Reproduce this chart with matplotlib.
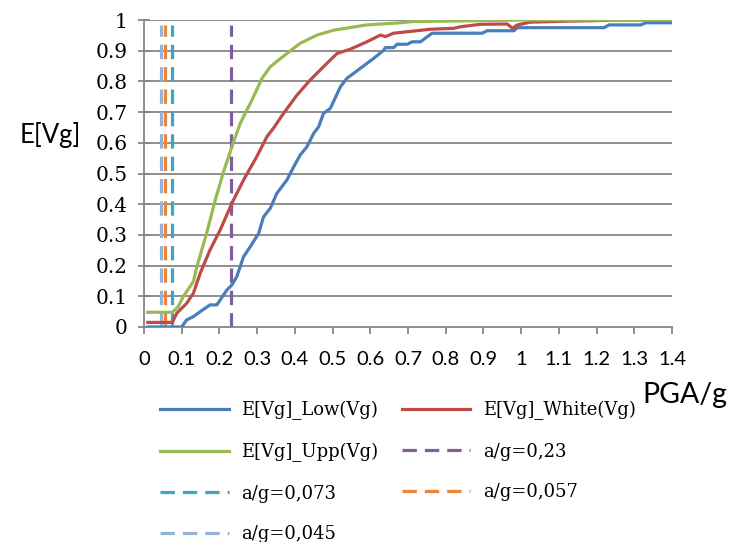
import matplotlib
matplotlib.use("Agg")
import matplotlib.pyplot as plt

# E[Vg] curves
low_x = [0.01, 0.10, 0.113, 0.131, 0.149, 0.175, 0.193, 0.220, 0.233, 0.246, 0.264, 0.282,
         0.304, 0.317, 0.335, 0.352, 0.379, 0.397, 0.414, 0.432, 0.450, 0.463, 0.476, 0.494,
         0.521, 0.538, 0.574, 0.609, 0.636, 0.640, 0.662, 0.671, 0.698, 0.711, 0.733, 0.764,
         0.897, 0.910, 0.981, 0.990, 1.220, 1.233, 1.317, 1.331, 1.40]
low_y = [0.0, 0.0, 0.023, 0.034, 0.050, 0.072, 0.072, 0.121, 0.137, 0.164, 0.229, 0.262,
         0.305, 0.359, 0.387, 0.435, 0.479, 0.522, 0.560, 0.587, 0.631, 0.652, 0.696, 0.712,
         0.783, 0.810, 0.843, 0.875, 0.902, 0.910, 0.910, 0.921, 0.921, 0.929, 0.929, 0.957,
         0.957, 0.965, 0.965, 0.975, 0.975, 0.984, 0.984, 0.991, 0.991]

white_x = [0.01, 0.075, 0.087, 0.113, 0.131, 0.149, 0.175, 0.202, 0.233, 0.264, 0.299, 0.326,
           0.343, 0.370, 0.406, 0.441, 0.476, 0.512, 0.547, 0.591, 0.627, 0.640, 0.662, 0.715,
           0.760, 0.822, 0.839, 0.892, 0.963, 0.977, 0.990, 1.025, 1.114, 1.202, 1.25, 1.40]
white_y = [0.015, 0.015, 0.045, 0.077, 0.110, 0.175, 0.251, 0.316, 0.403, 0.479, 0.555, 0.620,
           0.647, 0.696, 0.756, 0.805, 0.848, 0.891, 0.905, 0.929, 0.951, 0.946, 0.957, 0.964,
           0.970, 0.973, 0.978, 0.986, 0.987, 0.973, 0.984, 0.993, 0.996, 0.998, 1.0, 1.0]

upp_x = [0.01, 0.075, 0.090, 0.104, 0.131, 0.140, 0.166, 0.189, 0.211, 0.233, 0.255, 0.286,
         0.313, 0.335, 0.379, 0.414, 0.459, 0.503, 0.591, 0.680, 0.715, 0.892, 1.0, 1.40]
upp_y = [0.048, 0.048, 0.065, 0.099, 0.148, 0.196, 0.305, 0.414, 0.506, 0.587, 0.663, 0.739,
         0.810, 0.848, 0.891, 0.924, 0.951, 0.967, 0.984, 0.991, 0.995, 0.998, 1.0, 1.0]

# a/g threshold lines
ag_values = [0.23, 0.073, 0.057, 0.045]
ag_labels = ["a/g=0,23", "a/g=0,073", "a/g=0,057", "a/g=0,045"]
ag_colors = ["#7D5FA0", "#3FA6C0", "#EE8434", "#95B3D7"]

x_ticks = [0, 0.1, 0.2, 0.3, 0.4, 0.5, 0.6, 0.7, 0.8, 0.9, 1, 1.1, 1.2, 1.3, 1.4]
x_ticklabels = ["0", "0.1", "0.2", "0.3", "0.4", "0.5", "0.6", "0.7", "0.8", "0.9", "1",
                "1.1", "1.2", "1.3", "1.4"]
y_ticks = [0, 0.1, 0.2, 0.3, 0.4, 0.5, 0.6, 0.7, 0.8, 0.9, 1]
y_ticklabels = ["0", "0.1", "0.2", "0.3", "0.4", "0.5", "0.6", "0.7", "0.8", "0.9", "1"]

grey = "#868686"

fig = plt.figure(figsize=(7.33, 5.42), dpi=100)
ax = fig.add_axes([144 / 733, 1 - 327 / 542, 528 / 733, 307 / 542])

lw = 2.3
ax.plot(low_x, low_y, color="#4A7EBB", lw=lw, label="E[Vg]_Low(Vg)", zorder=3)
ax.plot(white_x, white_y, color="#BE4B48", lw=lw, label="E[Vg]_White(Vg)", zorder=3)
ax.plot(upp_x, upp_y, color="#98B954", lw=lw, label="E[Vg]_Upp(Vg)", zorder=3)
for v, lab, col in zip(ag_values, ag_labels, ag_colors):
    ax.plot([v, v], [0, 0.985], color=col, lw=lw, ls=(0, (4.5, 2.5)), label=lab, zorder=2)

ax.set_xlim(0, 1.4)
ax.set_ylim(0, 1)
for yv in y_ticks[1:]:
    ax.axhline(yv, color=grey, lw=1.3, zorder=1)

for s in ["top", "right"]:
    ax.spines[s].set_visible(False)
for s in ["left", "bottom"]:
    ax.spines[s].set_color(grey)
    ax.spines[s].set_linewidth(1.3)

ax.set_xticks(x_ticks)
ax.set_xticklabels(x_ticklabels)
ax.set_yticks(y_ticks)
ax.set_yticklabels(y_ticklabels)
for t in ax.get_xticklabels():
    t.set_fontfamily("Lato")
    t.set_fontsize(14.5)
for t in ax.get_yticklabels():
    t.set_fontfamily("DejaVu Serif")
    t.set_fontsize(14.5)
ax.tick_params(axis="x", direction="out", length=5, width=1.3, color=grey, pad=12)
ax.tick_params(axis="y", direction="inout", length=8, width=1.3, color=grey, pad=8)

fig.text(50 / 733, 1 - 143 / 542, "E[Vg]", fontfamily="Lato", fontsize=18.5,
         ha="center", va="baseline")
fig.text(685 / 733, 1 - 403 / 542, "PGA/g", fontfamily="Lato", fontsize=20.5,
         ha="center", va="baseline")

# Excel fills the legend row by row; matplotlib fills columns, so reorder
handles, labels = ax.get_legend_handles_labels()
order = [0, 2, 4, 6, 1, 3, 5]
fig.legend([handles[i] for i in order], [labels[i] for i in order], ncol=2,
           loc="upper left", frameon=False,
           bbox_to_anchor=(160 / 733, 1 - 401 / 542), borderpad=0, borderaxespad=0,
           prop={"family": "DejaVu Serif", "size": 13}, handlelength=3.8,
           handletextpad=0.7, columnspacing=1.3, labelspacing=1.25)

fig.savefig("out.png", dpi=100)
